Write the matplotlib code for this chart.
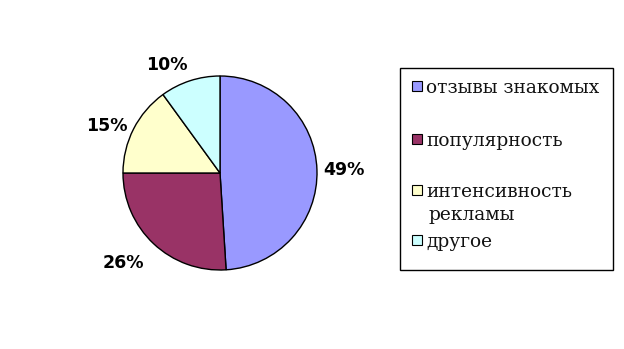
import numpy as np
import matplotlib
matplotlib.use("Agg")
import matplotlib.pyplot as plt
from matplotlib.patches import Rectangle

categories = ["отзывы знакомых", "популярность", "интенсивность\nрекламы", "другое"]
values = [49, 26, 15, 10]
colors = ["#9999FF", "#993366", "#FFFFCC", "#CCFFFF"]

W, H = 624, 349
fig = plt.figure(figsize=(W / 100, H / 100), dpi=100)

cx, cy, r = 220, 173, 97
ax = fig.add_axes([(cx - r) / W, (H - cy - r) / H, 2 * r / W, 2 * r / H])
wedges, texts, autotexts = ax.pie(
    values, colors=colors, startangle=90, counterclock=False,
    autopct="%d%%", pctdistance=1.1,
    wedgeprops=dict(edgecolor="black", linewidth=1.0),
    textprops=dict(fontsize=12.5, fontweight="bold", color="black", family="DejaVu Sans"),
)
# Excel-like outside label placement
for w, t in zip(wedges, autotexts):
    ang = np.deg2rad((w.theta1 + w.theta2) / 2)
    c, s = np.cos(ang), np.sin(ang)
    d = 1.07 if s > -0.6 else 1.14
    t.set_position((d * c, d * s))
    t.set_ha("left" if c > 0.1 else ("right" if c < -0.1 else "center"))
    t.set_va("bottom" if s > 0.6 else ("top" if s < -0.6 else "center"))
    t.set_clip_on(False)
ax.set_xlim(-1, 1)
ax.set_ylim(-1, 1)
ax.set_aspect("equal")
ax.axis("off")

def fx(x):
    return x / W

def fy(y):
    return 1 - y / H

box = Rectangle((fx(400), fy(270)), fx(613) - fx(400), fy(68) - fy(270),
                transform=fig.transFigure, facecolor="white", edgecolor="black", linewidth=1.0)
fig.patches.append(box)
rows_y = [86, 139, 190, 240]
for lab, col, yy in zip(categories, colors, rows_y):
    s = 10
    fig.patches.append(Rectangle((fx(412), fy(yy + s / 2)), s / W, s / H,
                                 transform=fig.transFigure, facecolor=col,
                                 edgecolor="black", linewidth=0.8))
    lines = lab.split("\n")
    for i, ln in enumerate(lines):
        fig.text(fx(426 if i == 0 else 428), fy(yy + 23 * i), ln, ha="left", va="center_baseline",
                 fontsize=13.4, family="DejaVu Serif", color="#111111")

fig.savefig("out.png", dpi=100)
